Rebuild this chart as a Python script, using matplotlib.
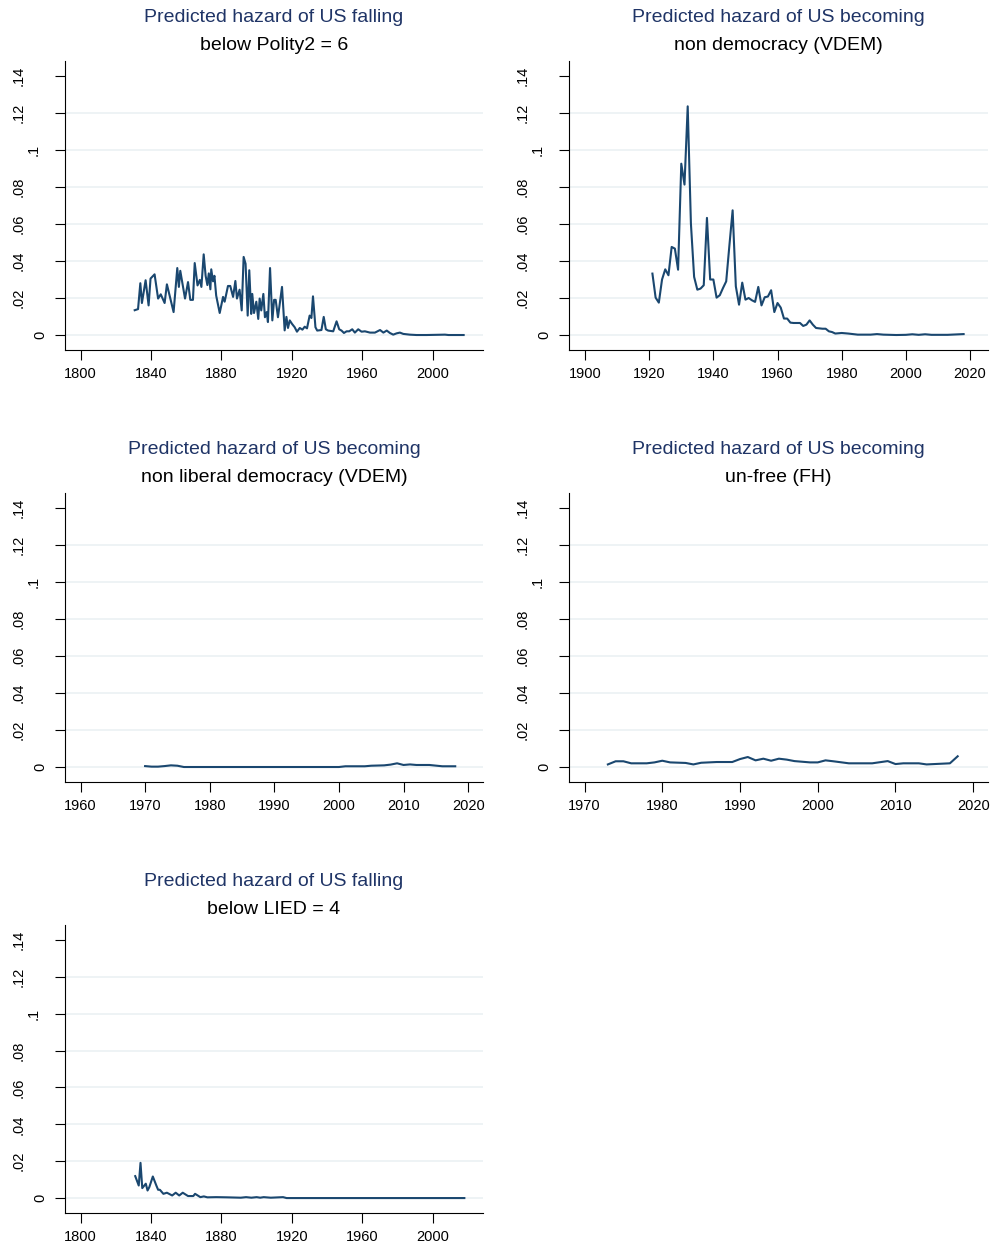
import matplotlib
matplotlib.use("Agg")
import matplotlib.pyplot as plt

plt.rcParams["font.family"] = ["Liberation Sans", "DejaVu Sans"]

# panel 1: below Polity2 = 6
yrs1 = [1830.7, 1832.6, 1833.9, 1834.8, 1836.9, 1838.6, 1839.7, 1842.0, 1844.0, 1845.5,
        1847.7, 1849.0, 1852.8, 1854.9, 1855.8, 1856.6, 1859.3, 1861.0, 1862.3, 1863.8,
        1864.8, 1866.4, 1867.7, 1868.6, 1869.9, 1871.0, 1872.0, 1872.8, 1873.7, 1874.2,
        1875.2, 1876.0, 1877.0, 1879.0, 1880.9, 1881.8, 1883.7, 1885.0, 1886.6, 1887.9,
        1888.8, 1890.3, 1891.5, 1892.6, 1893.7, 1894.9, 1895.8, 1896.9, 1897.5, 1898.5,
        1899.8, 1900.9, 1901.7, 1902.6, 1903.8, 1904.7, 1905.7, 1906.4, 1907.6, 1908.9,
        1909.9, 1910.8, 1912.1, 1914.4, 1915.9, 1916.9, 1917.8, 1918.8, 1920.1, 1921.6,
        1922.9, 1924.5, 1926.0, 1927.3, 1928.6, 1930.1, 1931.1, 1932.0, 1933.4, 1934.4,
        1936.8, 1938.1, 1939.3, 1940.6, 1943.5, 1945.4, 1946.9, 1948.2, 1949.6, 1951.1,
        1952.6, 1954.3, 1955.8, 1957.7, 1959.6, 1961.5, 1964.4, 1967.2, 1970.1, 1972.0,
        1973.9, 1975.7, 1977.6, 1979.5, 1981.4, 1983.3, 1987.0, 1990.8, 1996.5, 2007.0,
        2009.0, 2017.6]
haz1 = [0.0134, 0.0140, 0.0280, 0.0173, 0.0296, 0.0160, 0.0305, 0.0328, 0.0197, 0.0220,
        0.0173, 0.0274, 0.0124, 0.0362, 0.0260, 0.0347, 0.0197, 0.0286, 0.0190, 0.0190,
        0.0389, 0.0268, 0.0298, 0.0260, 0.0436, 0.0320, 0.0270, 0.0333, 0.0247, 0.0355,
        0.0290, 0.0320, 0.0213, 0.0119, 0.0206, 0.0180, 0.0265, 0.0265, 0.0206, 0.0292,
        0.0197, 0.0245, 0.0133, 0.0422, 0.0385, 0.0105, 0.0350, 0.0114, 0.0222, 0.0119,
        0.0180, 0.0087, 0.0197, 0.0133, 0.0222, 0.0096, 0.0124, 0.0070, 0.0362, 0.0079,
        0.0190, 0.0190, 0.0096, 0.0260, 0.0025, 0.0098, 0.0038, 0.0079, 0.0060, 0.0042,
        0.0018, 0.0038, 0.0029, 0.0045, 0.0036, 0.0105, 0.0092, 0.0209, 0.0042, 0.0024,
        0.0027, 0.0098, 0.0031, 0.0024, 0.0020, 0.0074, 0.0031, 0.0024, 0.0011, 0.0020,
        0.0020, 0.0031, 0.0013, 0.0031, 0.0018, 0.0020, 0.0013, 0.0013, 0.0027, 0.0013,
        0.0024, 0.0011, 0.0002, 0.0009, 0.0013, 0.0006, 0.0002, 0.0000, 0.0000, 0.0002,
        0.0000, 0.0000]

# panel 2: non democracy (VDEM)
yrs2 = list(range(1921, 1966)) + [1967, 1968, 1969, 1970, 1971, 1972,
        1974, 1975, 1976, 1977, 1978, 1980, 1982, 1985, 1989,
        1991, 1993, 1997, 2000, 2002, 2004, 2006, 2008, 2013, 2018]
haz2 = [0.0332, 0.0202, 0.0175, 0.0300, 0.0355, 0.0323, 0.0476, 0.0467, 0.0353, 0.0926,
        0.0813, 0.1236, 0.0602, 0.0314, 0.0245, 0.0251, 0.0269, 0.0633, 0.0300, 0.0300,
        0.0202, 0.0215, 0.0254, 0.0290, 0.0485, 0.0674, 0.0263, 0.0164, 0.0283, 0.0191,
        0.0200, 0.0188, 0.0179, 0.0260, 0.0160, 0.0204, 0.0208, 0.0242, 0.0124, 0.0173,
        0.0148, 0.0089, 0.0089, 0.0067, 0.0065,
        0.0065, 0.0049, 0.0056, 0.0079, 0.0056, 0.0038,
        0.0034, 0.0034, 0.0020, 0.0016, 0.0008, 0.0011, 0.0008, 0.0002, 0.0002,
        0.0005, 0.0002, 0.0000, 0.0001, 0.0004, 0.0001, 0.0004, 0.0001, 0.0001, 0.0005]

# panel 3: non liberal democracy (VDEM)
yrs3 = [1970, 1971, 1972, 1973, 1974, 1975, 1976, 1977, 2000, 2001, 2004,
        2005, 2007, 2008, 2009, 2010, 2011, 2012, 2014, 2016, 2018]
haz3 = [0.0005, 0.0002, 0.0002, 0.0005, 0.0009, 0.0007, 0.0000, 0.0000, 0.0000, 0.0004, 0.0004,
        0.0007, 0.0009, 0.0013, 0.0020, 0.0011, 0.0014, 0.0011, 0.0011, 0.0004, 0.0004]

# panel 4: un-free (FH)
yrs4 = [1973, 1974, 1975, 1976, 1978, 1979, 1980, 1981, 1983, 1984, 1985, 1987,
        1989, 1990, 1991, 1992, 1993, 1994, 1995, 1996, 1997, 1999, 2000, 2001,
        2002, 2004, 2007, 2009, 2010, 2011, 2013, 2014, 2016, 2017, 2018]
haz4 = [0.0014, 0.0031, 0.0031, 0.0020, 0.0020, 0.0025, 0.0034, 0.0025, 0.0022, 0.0014, 0.0023, 0.0027,
        0.0027, 0.0043, 0.0054, 0.0036, 0.0045, 0.0034, 0.0045, 0.0040, 0.0032, 0.0025, 0.0025, 0.0036,
        0.0031, 0.0020, 0.0020, 0.0032, 0.0016, 0.0020, 0.0020, 0.0014, 0.0018, 0.0020, 0.0058]

# panel 5: below LIED = 4
yrs5 = [1831, 1833, 1834, 1835, 1837, 1838, 1839, 1841, 1843, 1844, 1845, 1847,
        1849, 1852, 1854, 1856, 1858, 1861, 1864, 1865, 1868, 1870, 1872, 1877,
        1883, 1891, 1894, 1897, 1900, 1902, 1904, 1908, 1915, 1917, 2018]
haz5 = [0.0119, 0.0068, 0.0191, 0.0054, 0.0078, 0.0041, 0.0059, 0.0117, 0.0068, 0.0045, 0.0045, 0.0023,
        0.0029, 0.0014, 0.0029, 0.0014, 0.0029, 0.0011, 0.0011, 0.0023, 0.0005, 0.0009, 0.0004, 0.0005,
        0.0004, 0.0002, 0.0005, 0.0002, 0.0005, 0.0002, 0.0005, 0.0002, 0.0005, 0.0000, 0.0000]

titles = ["Predicted hazard of US falling", "Predicted hazard of US becoming",
          "Predicted hazard of US becoming", "Predicted hazard of US becoming",
          "Predicted hazard of US falling"]
subtitles = ["below Polity2 = 6", "non democracy (VDEM)", "non liberal democracy (VDEM)",
             "un-free (FH)", "below LIED = 4"]
yticks = [0, 0.02, 0.04, 0.06, 0.08, 0.1, 0.12, 0.14]
ylabels = ["0", ".02", ".04", ".06", ".08", ".1", ".12", ".14"]
xticks = [list(range(1800, 2001, 40)), list(range(1900, 2021, 20)),
          list(range(1960, 2021, 10)), list(range(1970, 2021, 10)),
          list(range(1800, 2001, 40))]
xlims = [(1791.1, 2028.6), (1895.0, 2025.6), (1957.6, 2022.3), (1968.0, 2021.9), (1791.1, 2028.6)]
series = [(yrs1, haz1), (yrs2, haz2), (yrs3, haz3), (yrs4, haz4), (yrs5, haz5)]

W, H = 990, 1247
fig = plt.figure(figsize=(W / 100, H / 100), dpi=100)
fig.patch.set_facecolor("white")

# axes boxes in pixels: left, top, right, bottom
boxes = [(65, 61, 483, 350), (569, 61, 988, 350),
         (65, 493, 483, 782), (569, 493, 988, 782),
         (65, 925, 483, 1213)]

# stata-ish placement of rotated y labels: longer labels sit further out
label_dist = {1: 25, 2: 31, 3: 46}

navy = "#1a476f"
for i, (l, t, r, b) in enumerate(boxes):
    ax = fig.add_axes([l / W, (H - b) / H, (r - l) / W, (b - t) / H])
    for y in yticks[:-1]:
        ax.axhline(y, color="#eaf0f3", lw=1.1, zorder=0)
    x, y = series[i]
    ax.plot(x, y, color=navy, lw=1.5, solid_joinstyle="round", zorder=2)
    ax.set_xlim(*xlims[i])
    ax.set_ylim(-0.0081, 0.1481)
    ax.set_yticks(yticks)
    ax.set_yticklabels([])
    for yv, lab in zip(yticks, ylabels):
        ax.annotate(lab, xy=(0, yv), xycoords=("axes fraction", "data"),
                    xytext=(-label_dist[len(lab)], 0), textcoords="offset pixels",
                    rotation=90, ha="center", va="center", fontsize=10.5)
    ax.set_xticks(xticks[i])
    ax.tick_params(axis="both", labelsize=10.5, length=7, width=0.8, color="black")
    ax.tick_params(axis="x", pad=5)
    for s in ["top", "right"]:
        ax.spines[s].set_visible(False)
    for s in ["left", "bottom"]:
        ax.spines[s].set_linewidth(0.8)
    ax.annotate(titles[i], xy=(0.5, 1), xycoords="axes fraction", xytext=(0, 44),
                textcoords="offset pixels", ha="center", va="center",
                fontsize=14, color="#1f3466")
    ax.annotate(subtitles[i], xy=(0.5, 1), xycoords="axes fraction", xytext=(0, 16),
                textcoords="offset pixels", ha="center", va="center",
                fontsize=14, color="black")

fig.savefig("out.png", dpi=100, facecolor="white")
